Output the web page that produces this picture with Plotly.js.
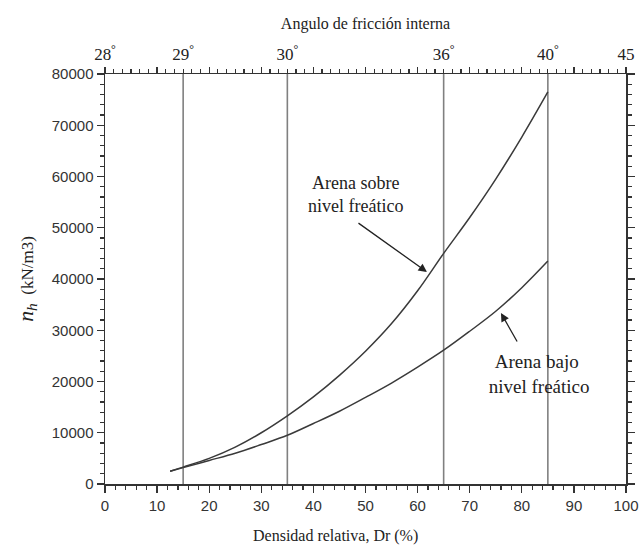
<!DOCTYPE html>
<html>
<head>
<meta charset="utf-8">
<script src="https://cdn.plot.ly/plotly-3.0.1.min.js"></script>
<style>
html,body{margin:0;padding:0;background:#fff;}
#chart{width:641px;height:545px;}
</style>
</head>
<body>
<div id="chart"></div>
<script>
// Densidad relativa (%) samples for the curves
const dr = [12.5, 15, 20, 25, 30, 35, 40, 45, 50, 55, 60, 65, 70, 75, 80, 85];
// Arena sobre nivel freático (kN/m3)
const sobre = [2500, 3300, 5000, 7200, 10000, 13300, 17000, 21200, 25900, 31300, 37700, 45000, 52000, 59500, 67700, 76500];
// Arena bajo nivel freático (kN/m3)
const bajo = [2500, 3200, 4600, 6000, 7700, 9500, 11800, 14200, 16900, 19700, 22800, 26100, 29800, 33700, 38300, 43500];
// Angle scale: Dr position of each angle label
const angleDr = [0, 15, 35, 65, 85, 100];
const angleLabels = ['28', '29', '30', '36', '40', '45'];
const angleDeg = [true, true, true, true, true, false];
// Vertical reference lines at these angles' Dr
const vlineDr = [15, 35, 65, 85];
const yMax = 80000;

const traces = [];
vlineDr.forEach(v => {
  traces.push({x: [v, v], y: [0, yMax], mode: 'lines', line: {color: '#808080', width: 1.6}, hoverinfo: 'skip', showlegend: false});
});
traces.push({x: dr, y: sobre, mode: 'lines', line: {color: '#3a3a3a', width: 1.5, shape: 'spline'}, showlegend: false});
traces.push({x: dr, y: bajo, mode: 'lines', line: {color: '#3a3a3a', width: 1.5, shape: 'spline'}, showlegend: false});
// dummy traces to activate top axes
traces.push({x: [0], y: [0], xaxis: 'x2', yaxis: 'y', mode: 'markers', marker: {opacity: 0}, hoverinfo: 'skip', showlegend: false});
traces.push({x: [0], y: [0], xaxis: 'x3', yaxis: 'y', mode: 'markers', marker: {opacity: 0}, hoverinfo: 'skip', showlegend: false});

const sans = 'Liberation Sans';
const serif = 'Liberation Serif';

const layout = {
  width: 641, height: 545,
  margin: {l: 105, r: 15, t: 74, b: 61},
  paper_bgcolor: '#fff', plot_bgcolor: '#fff',
  showlegend: false,
  font: {family: serif},
  xaxis: {
    range: [0, 100], tickvals: [0,10,20,30,40,50,60,70,80,90,100],
    ticks: 'outside', ticklen: 7, tickwidth: 1.3, tickcolor: '#333',
    minor: {dtick: 2, ticks: 'outside', ticklen: 4, tickcolor: '#333', tickwidth: 1.2},
    showline: true, linecolor: '#333', linewidth: 1.5,
    showgrid: false, zeroline: false,
    tickfont: {family: sans, size: 15, color: '#333'}
  },
  xaxis2: {
    overlaying: 'x', side: 'top', range: [0, 100],
    tickmode: 'array', tickvals: angleDr,
    ticktext: angleLabels.map((l, i) => angleDeg[i] ? l + '<sup>°</sup>' : l),
    ticks: 'outside', ticklen: 6, tickcolor: 'rgba(0,0,0,0)', showgrid: false, zeroline: false, showline: false,
    tickfont: {family: serif, size: 17, color: '#222'},
    title: {text: 'Angulo de fricción interna', font: {family: serif, size: 16, color: '#222'}, standoff: 8}
  },
  xaxis3: {
    overlaying: 'x', side: 'top', range: [0, 100], dtick: 10,
    showticklabels: false, ticks: 'outside', ticklen: 6, tickwidth: 1.3, tickcolor: '#333',
    minor: {dtick: 10/6, ticks: 'outside', ticklen: 4, tickcolor: '#333', tickwidth: 1.2},
    showline: true, linecolor: '#333', linewidth: 1.5, showgrid: false, zeroline: false
  },
  yaxis: {
    range: [0, yMax], dtick: 10000, tickformat: 'd',
    ticks: 'outside', ticklen: 7, tickwidth: 1.3, tickcolor: '#333',
    minor: {dtick: 2000, ticks: 'outside', ticklen: 4, tickcolor: '#333', tickwidth: 1.2},
    showline: true, linecolor: '#333', linewidth: 1.5, mirror: 'ticks',
    showgrid: false, zeroline: false,
    tickfont: {family: sans, size: 15, color: '#333'},
    title: {text: '<span style="font-size:22px"><i>n<sub>h</sub></i></span>  (kN/m3)', font: {family: serif, size: 17, color: '#222'}, standoff: 14}
  },
  annotations: [
    {xref: 'paper', yref: 'paper', x: 0.443, y: -0.1, yanchor: 'top', showarrow: false,
     text: 'Densidad relativa, Dr (%)', font: {family: serif, size: 16, color: '#222'}},
    {x: 48, y: 56400, showarrow: false, align: 'center',
     text: 'Arena sobre<br>nivel freático', font: {family: serif, size: 18, color: '#222'}},
    {x: 61.8, y: 41360, ax: -70, ay: -50, text: '', showarrow: true, arrowhead: 2, arrowsize: 1.3, arrowwidth: 1.3, arrowcolor: '#222'},
    {x: 83, y: 21460, showarrow: false, align: 'center',
     text: 'Arena bajo<br> nivel freático', font: {family: serif, size: 19, color: '#222'}},
    {x: 76.0, y: 33360, ax: 17, ay: 30, text: '', showarrow: true, arrowhead: 2, arrowsize: 1.3, arrowwidth: 1.3, arrowcolor: '#222'}
  ]
};

Plotly.newPlot('chart', traces, layout, {displayModeBar: false, staticPlot: true});
</script>
</body>
</html>
